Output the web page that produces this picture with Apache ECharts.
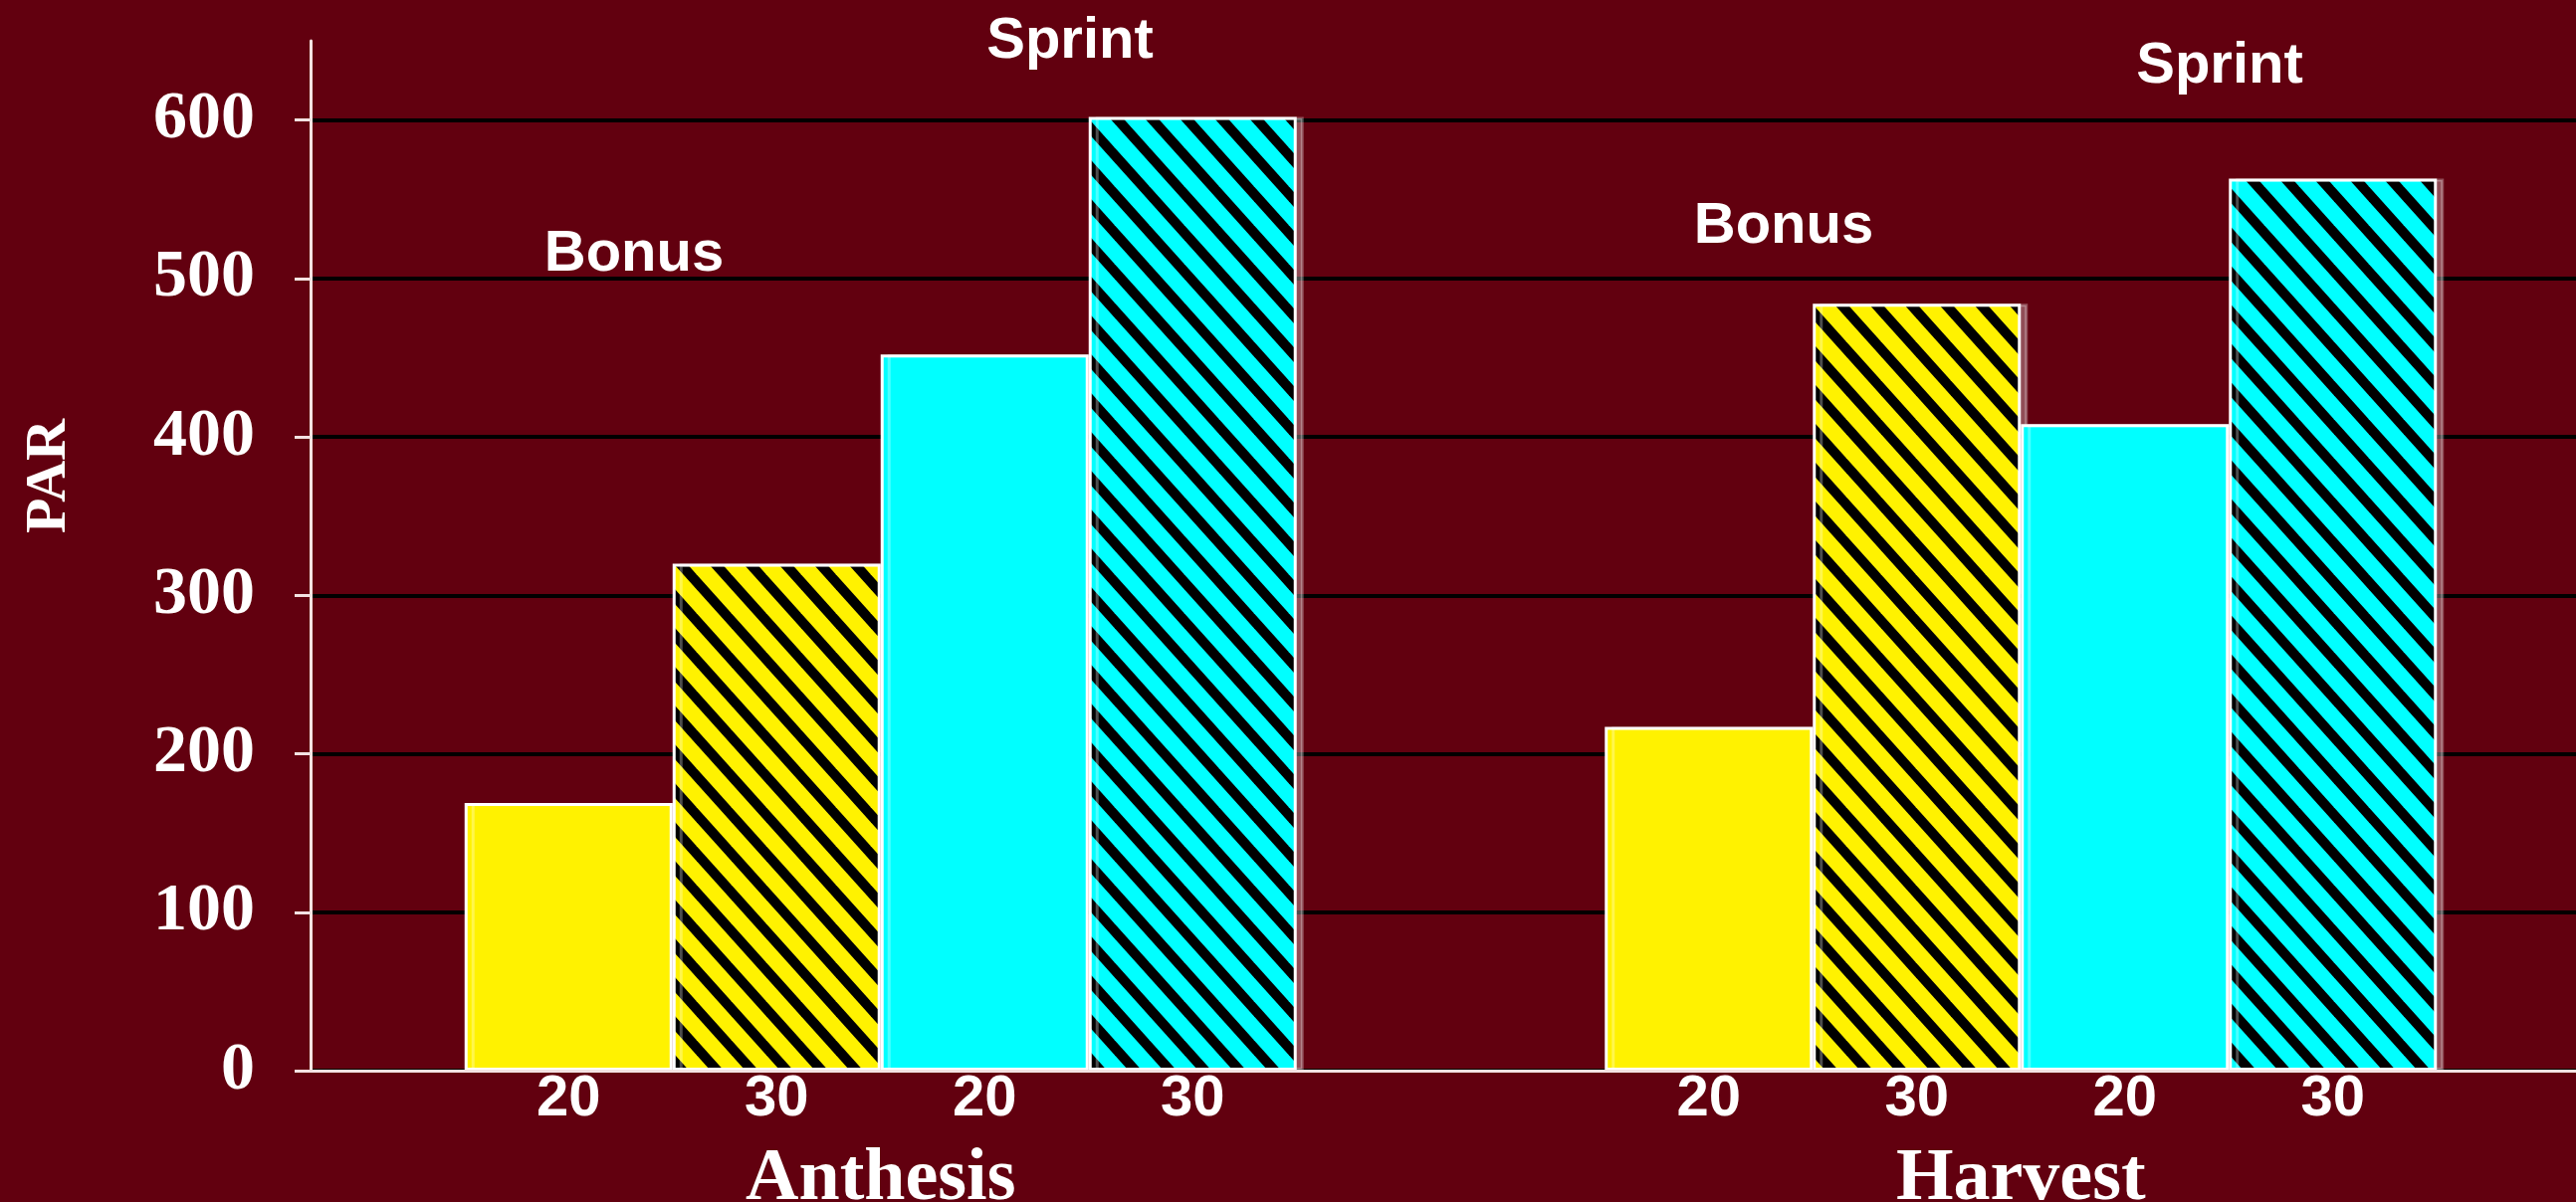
<!DOCTYPE html>
<html>
<head>
<meta charset="utf-8">
<script src="https://cdn.jsdelivr.net/npm/echarts@6.0.0/dist/echarts.min.js"></script>
<style>
  html, body { margin: 0; padding: 0; background: #62000f; }
  #chart { width: 2588px; height: 1208px; }
</style>
</head>
<body>
<div id="chart"></div>
<script>
// data
const stages = ['Anthesis', 'Harvest']
const bonus20 = [169, 217]
const bonus30 = [320, 484]
const sprint20 = [452, 408]
const sprint30 = [602, 563]
const barLabels = ['20', '30', '20', '30']
const yTicks = [0, 100, 200, 300, 400, 500, 600]
const notes = ['Bonus', 'Sprint', 'Bonus', 'Sprint']

const YELLOW = '#fff200'
const CYAN = '#00ffff'
const AXIS = '#f3e2e2'

// diagonal black stripes on a colour, "\" direction
function hatch (color) {
    const w = 35, h = 39
    const c = document.createElement('canvas')
    c.width = w
    c.height = h
    const ctx = c.getContext('2d')
    ctx.fillStyle = color
    ctx.fillRect(0, 0, w, h)
    ctx.strokeStyle = '#000'
    ctx.lineWidth = 10
    for (let k = -1; k <= 1; k++) {
        // long line so the ends are clipped by the tile, no gaps at the seams
        ctx.beginPath()
        ctx.moveTo(k * w - w, -h)
        ctx.lineTo(k * w + 2 * w, 2 * h)
        ctx.stroke()
    }
    return { image: c, repeat: 'repeat' }
}

function barSeries (name, data, color, label) {
    return {
        name: name,
        type: 'bar',
        data: data,
        barWidth: 209,
        barGap: '0%',
        itemStyle: {
            color: color,
            borderColor: '#ffffff',
            borderWidth: 3,
            shadowColor: 'rgba(255,255,255,0.3)',
            shadowOffsetX: 7
        },
        label: {
            show: true,
            position: 'bottom',
            distance: 0,
            formatter: label,
            color: '#fff',
            fontFamily: 'Liberation Sans',
            fontWeight: 'bold',
            fontSize: 58
        }
    }
}

const noteText = (text, x, y) => ({
    type: 'text',
    x: x,
    y: y,
    style: {
        text: text,
        fill: '#fff',
        font: 'bold 58px "Liberation Sans"',
        align: 'center',
        verticalAlign: 'middle',
        shadowColor: 'rgba(0,0,0,0.6)',
        shadowBlur: 4,
        shadowOffsetX: 2,
        shadowOffsetY: 2
    }
})

const chart = echarts.init(document.getElementById('chart'))
chart.setOption({
    backgroundColor: '#62000f',
    animation: false,
    grid: { left: 312, right: -15, top: 41, bottom: 132, outerBoundsMode: 'none', containLabel: false },
    xAxis: {
        type: 'category',
        data: stages,
        axisLine: { lineStyle: { color: AXIS, width: 3 } },
        axisTick: { length: 21, lineStyle: { color: AXIS, width: 3 } },
        axisLabel: {
            margin: 73,
            color: '#fff',
            fontFamily: 'Liberation Serif',
            fontWeight: 'bold',
            fontSize: 74
        },
        z: 5
    },
    yAxis: {
        type: 'value',
        min: 0,
        max: 650,
        interval: 100,
        name: 'PAR',
        nameLocation: 'middle',
        nameRotate: 90,
        nameGap: 233,
        nameTextStyle: {
            color: '#fff',
            fontFamily: 'Liberation Serif',
            fontWeight: 'bold',
            fontSize: 58,
            padding: [0, 0, 0, 160]
        },
        axisLine: { show: true, lineStyle: { color: AXIS, width: 3 } },
        axisTick: { show: true, length: 16, customValues: yTicks, lineStyle: { color: AXIS, width: 3 } },
        axisLabel: {
            customValues: yTicks,
            margin: 56,
            color: '#fff',
            fontFamily: 'Liberation Serif',
            fontWeight: 'bold',
            fontSize: 68
        },
        splitLine: { show: true, lineStyle: { color: '#000', width: 4 } }
    },
    series: [
        barSeries('Bonus 20', bonus20, YELLOW, barLabels[0]),
        barSeries('Bonus 30', bonus30, hatch(YELLOW), barLabels[1]),
        barSeries('Sprint 20', sprint20, CYAN, barLabels[2]),
        barSeries('Sprint 30', sprint30, hatch(CYAN), barLabels[3])
    ],
    graphic: [
        noteText(notes[0], 637, 256),
        noteText(notes[1], 1075, 42),
        noteText(notes[2], 1792, 228),
        noteText(notes[3], 2230, 67)
    ]
})
</script>
</body>
</html>
